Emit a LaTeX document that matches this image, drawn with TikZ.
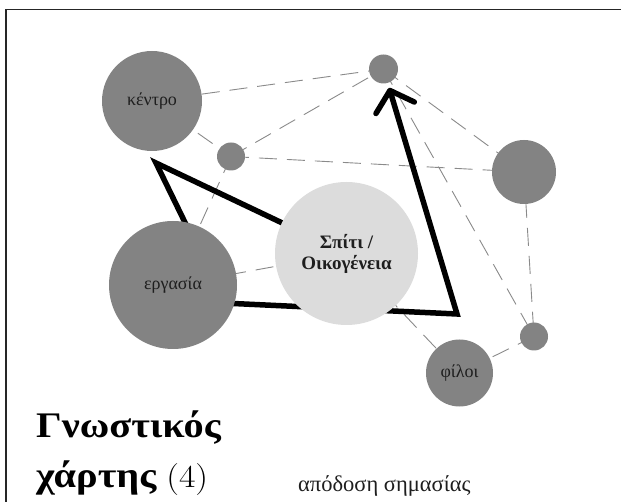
\documentclass[tikz,border=0pt]{standalone}
\usepackage{fontspec}
\newfontfamily\gr{Liberation Serif}
\usetikzlibrary{arrows.meta,backgrounds}
\definecolor{bubdark}{HTML}{838383}
\definecolor{bublight}{HTML}{DCDCDC}
\definecolor{linkgray}{HTML}{8A8A8A}
\definecolor{txt}{HTML}{1E1E1E}
\begin{document}
\begin{tikzpicture}[x=1pt,y=-1pt,
  bub/.style={circle, fill=bubdark, draw=none, inner sep=0pt, minimum size=#1,
    text=txt, font=\gr\fontsize{18}{21}\selectfont},
  homebub/.style={circle, fill=bublight, draw=none, inner sep=0pt, minimum size=#1,
    text=txt, align=center, font=\gr\bfseries\fontsize{19}{21}\selectfont},
  link/.style={draw=linkgray, line width=0.9pt, dash pattern=on 18pt off 10pt},
  route/.style={draw=black, line width=5.5pt, line join=miter},
  title/.style={anchor=base west, inner sep=0pt, xscale=1.12, font=\gr\bfseries\fontsize{36}{44}\selectfont},
  frame/.style={draw=black!85, line width=1.3pt}]
\useasboundingbox (0,0) rectangle (621,502);
\draw[frame] (6,502) -- (6,9.5) -- (621,9.5);

\node[bub=100] (kentro) at (152,101) {κέντρο};
\node[bub=28] (s1) at (231,156.5) {};
\node[bub=29] (top) at (383.5,69) {};
\node[bub=64] (right) at (524,172) {};
\node[homebub=143] (home) at (346.5,253.5) {Σπίτι /\\Οικογένεια};
\node[bub=128] (erg) at (173,285) {εργασία};
\node[bub=28] (s2) at (534,336.5) {};
\node[bub=67] (filoi) at (459.5,373) {φίλοι};

\coordinate (c1) at (156,163);
\coordinate (c2) at (457,314);
\coordinate (e1) at (214,282);
\coordinate (e2) at (180,301);

\begin{scope}[on background layer]
  \draw[link] (kentro) -- (top);
  \draw[link] (kentro.center) -- (s1.center);
  \draw[link] (s1.center) -- (top.center);
  \draw[link] (s1.center) -- (right.center);
  \draw[link] (s1.center) -- (erg.center);
  \draw[link] (top.center) -- (right.center);
  \draw[link] (top.center) -- (s2.center);
  \draw[link] (right.center) -- (s2.center);
  \draw[link] (s2.center) -- (filoi.center);
  \draw[link] (home.center) -- (filoi.center);
  \draw[link] (erg.center) -- (home.center);
  \draw[route] (e1) -- (c1) -- (home.center);
  \draw[route, -{Straight Barb[length=18pt,width=40pt,line cap=round,line join=round]}, shorten >=5pt] (e2) -- (c2) -- (top);
\end{scope}

\node[title] (t1) at (36,437) {Γνωστικός};
\node[title] (t2) at (36,487) {χάρτης {\mdseries\fontspec{Latin Modern Roman}\fontsize{32}{44}\selectfont(4)}};
\node[anchor=base west, inner sep=0pt, font=\gr\fontsize{22.5}{26}\selectfont, text=txt] (sub) at (298,491) {απόδοση σημασίας};
\end{tikzpicture}
\end{document}
